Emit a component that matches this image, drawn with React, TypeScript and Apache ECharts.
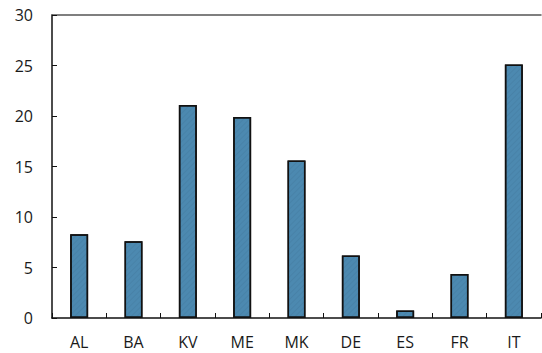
import React, { useEffect, useRef } from "react";
import * as echarts from "echarts";

const categories = ["AL", "BA", "KV", "ME", "MK", "DE", "ES", "FR", "IT"];
const values = [8.3, 7.6, 21.1, 19.9, 15.6, 6.2, 0.75, 4.35, 25.1];
const yMin = 0;
const yMax = 30;
const yInterval = 5;

export default function App() {
  const ref = useRef<HTMLDivElement>(null);
  useEffect(() => {
    if (!ref.current) return;
    const chart = echarts.init(ref.current, null, { renderer: "svg" });
    const font = "'Open Sans', sans-serif";
    chart.setOption({
      animation: false,
      backgroundColor: "#ffffff",
      grid: { left: 52, right: 1, top: 15, bottom: 35, containLabel: false },
      xAxis: [
        {
          type: "category",
          data: categories,
          position: "bottom",
          axisLine: { show: true, lineStyle: { color: "#111", width: 1.5 } },
          axisTick: { show: true, inside: true, length: 5, lineStyle: { color: "#111", width: 1 } },
          axisLabel: { color: "#1a1a1a", fontSize: 16, lineHeight: 16, fontFamily: font, margin: 16 },
          splitLine: { show: false },
        },
        {
          type: "category",
          data: categories,
          position: "top",
          axisLine: { show: true, lineStyle: { color: "#555", width: 1.5 } },
          axisTick: { show: false },
          axisLabel: { show: false },
        },
      ],
      yAxis: {
        type: "value",
        min: yMin,
        max: yMax,
        interval: yInterval,
        axisLine: { show: true, lineStyle: { color: "#111", width: 1.5 } },
        axisTick: { show: true, inside: true, length: 5, lineStyle: { color: "#111", width: 1 } },
        axisLabel: { color: "#1a1a1a", fontSize: 16, fontFamily: font, margin: 19 },
        splitLine: { show: false },
      },
      series: [
        {
          type: "bar",
          data: values,
          barWidth: "33%",
          itemStyle: {
            color: "#4c89b0",
            borderColor: "#111",
            borderWidth: 1.5,
            decal: {
              symbol: "rect",
              symbolSize: 1,
              dashArrayX: [1, 0],
              dashArrayY: [1, 3],
              rotation: -Math.PI / 4,
              color: "rgba(20,50,80,0.08)",
            },
          },
        },
      ],
    });
    return () => chart.dispose();
  }, []);
  return <div ref={ref} style={{ width: 542, height: 353, position: "absolute", left: 0, top: 0 }} />;
}
